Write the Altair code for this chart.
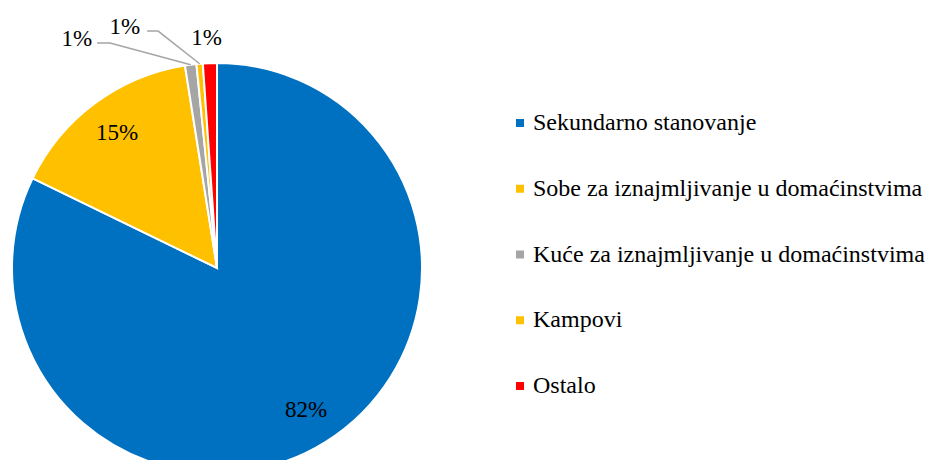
import math
import altair as alt
import pandas as pd

# ---- data ----
categories = [
    "Sekundarno stanovanje",
    "Sobe za iznajmljivanje u domaćinstvima",
    "Kuće za iznajmljivanje u domaćinstvima",
    "Kampovi",
    "Ostalo",
]
values = [82.2, 15.3, 0.9, 0.5, 1.1]
pct_labels = ["82%", "15%", "1%", "1%", "1%"]
colors = ["#0070C0", "#FFC000", "#A5A5A5", "#FFC000", "#FF0000"]

# ---- layout constants (plot-area pixels) ----
CX, CY, R = 209, 260, 205
LABEL_R = 168
FONT = "Liberation Serif"
FS = 23
LEG_FS = 24

df = pd.DataFrame({
    "cat": categories,
    "value": values,
    "order": list(range(len(categories))),
    "inside": [l if v >= 5 else "" for l, v in zip(pct_labels, values)],
})

total = sum(values)
cum = 0
mids = []
for v in values:
    mids.append((cum + v / 2) / total)
    cum += v

def rim(i):
    a = 2 * math.pi * mids[i]
    return CX + R * math.sin(a), CY - R * math.cos(a)

leader_layout = [(2, (-80.6, -21.7), -13, -5), (3, (-41.5, -32.7), -11, -7)]
line_rows = []
text_rows = []
for i, (dx, dy), tail, gap in leader_layout:
    ax, ay = rim(i)
    ex, ey = ax + dx, ay + dy
    tx = ex + tail
    for k, (px, py) in enumerate([(ax, ay), (ex, ey), (tx, ey)]):
        line_rows.append({"g": categories[i], "k": k, "x": px, "y": py})
    text_rows.append({"x": tx + gap, "y": ey + 3, "t": pct_labels[i]})
ox, oy = rim(4)
text_rows.append({"x": ox + 12, "y": oy - 18, "t": pct_labels[4]})

lines_df = pd.DataFrame(line_rows)
texts_df = pd.DataFrame(text_rows)

color_scale = alt.Scale(domain=categories, range=colors)

pie = alt.Chart(df).mark_arc(
    radius=R, stroke="white", strokeWidth=2
).encode(
    theta=alt.Theta("value:Q", stack=True),
    order=alt.Order("order:Q"),
    color=alt.Color(
        "cat:N",
        scale=color_scale,
        sort=categories,
        legend=alt.Legend(
            title=None,
            orient="none",
            legendX=500,
            legendY=103,
            symbolType="square",
            symbolSize=64,
            symbolStrokeWidth=0,
            labelFont=FONT,
            labelFontSize=LEG_FS,
            labelColor="#000000",
            labelLimit=600,
            labelOffset=1,
            rowPadding=41.75,
            padding=0,
        ),
    ),
    x=alt.value(CX),
    y=alt.value(CY),
)

inside = alt.Chart(df).mark_text(
    radius=LABEL_R, font=FONT, fontSize=FS, color="#000000"
).encode(
    theta=alt.Theta("value:Q", stack=True),
    order=alt.Order("order:Q"),
    text="inside:N",
    x=alt.value(CX),
    y=alt.value(CY),
)

leaders = alt.Chart(lines_df).mark_line(color="#A5A5A5", strokeWidth=1.5).encode(
    x=alt.X("x:Q", scale=None),
    y=alt.Y("y:Q", scale=None),
    detail="g:N",
    order="k:Q",
)

outside = alt.Chart(texts_df).mark_text(
    font=FONT, fontSize=FS, color="#000000", align="right", baseline="alphabetic"
).encode(
    x=alt.X("x:Q", scale=None),
    y=alt.Y("y:Q", scale=None),
    text="t:N",
)

chart = alt.layer(pie, inside, leaders, outside).properties(
    width=926, height=452, padding=0,
    autosize=alt.AutoSizeParams(type="none"),
).configure_view(stroke=None)

chart.save("out.html", embed_options={"renderer": "svg", "actions": False})
